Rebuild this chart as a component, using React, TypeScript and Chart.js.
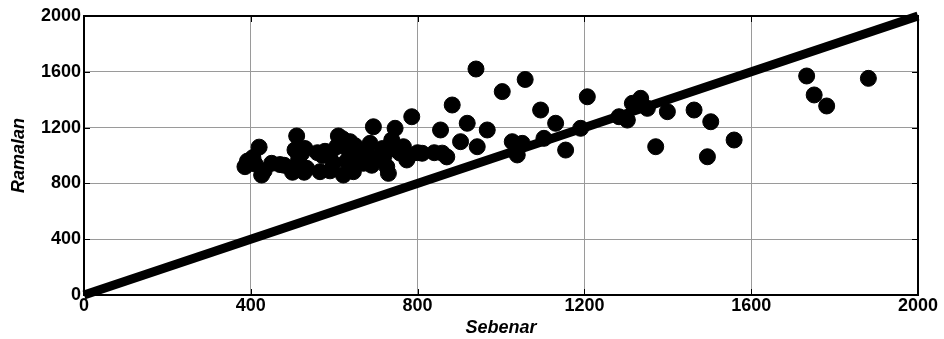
import React, { useEffect, useRef } from "react";
import { Chart, registerables } from "chart.js";

Chart.register(...registerables);

const sebenar: number[] = [
  386, 392, 405, 420, 426, 432, 450, 470, 500, 505, 506, 510, 515, 522, 530, 534, 528, 566, 572, 578,
  590, 598, 606, 610, 620, 622, 630, 634, 638, 646, 654, 660, 670, 676, 686, 694, 700, 710, 716, 726,
  730, 738, 746, 750, 758, 766, 774, 778, 786, 800, 811, 840, 855, 859, 870, 883, 903, 919, 940, 943,
  967, 1003, 1027, 1039, 1051, 1058, 1095, 1103, 1131, 1155, 1191, 1207, 1283, 1303, 1315, 1335, 1351, 1371, 1399, 1463,
  1495, 1503, 1559, 1733, 1751, 1781, 1881, 560, 590, 650, 690, 720, 480, 410,
];
const ramalan: number[] = [
  920, 960, 985, 1060, 860, 890, 944, 935, 880, 920, 1040, 1140, 980, 1016, 1050, 908, 880, 884, 1000, 1030,
  1010, 944, 1063, 1140, 1120, 860, 960, 1040, 1099, 884, 991, 1010, 944, 1040, 1087, 1206, 980, 991, 1050, 920,
  872, 1111, 1195, 1040, 1017, 1063, 968, 991, 1278, 1020, 1016, 1020, 1183, 1017, 990, 1362, 1099, 1231, 1620, 1063,
  1183, 1458, 1099, 1004, 1087, 1545, 1326, 1123, 1231, 1039, 1195, 1421, 1278, 1254, 1374, 1410, 1338, 1063, 1314, 1326,
  991, 1242, 1111, 1570, 1434, 1355, 1553, 1020, 890, 1070, 930, 1000, 930, 940,
];
const idealX: number[] = [0, 2000];
const idealY: number[] = [0, 2000];
const tickValues: number[] = [0, 400, 800, 1200, 1600, 2000];
const xTitle = "Sebenar";
const yTitle = "Ramalan";

const FONT = "'Liberation Sans', Arial, sans-serif";

export default function App() {
  const ref = useRef<HTMLCanvasElement | null>(null);

  useEffect(() => {
    document.body.style.margin = "0";
    const canvas = ref.current;
    if (!canvas) return;

    const boxPlugin = {
      id: "box",
      afterDraw(chart: any) {
        const { ctx, chartArea: a, scales } = chart;
        ctx.save();
        ctx.strokeStyle = "#000";
        ctx.lineWidth = 2;
        ctx.strokeRect(a.left, a.top, a.right - a.left, a.bottom - a.top);
        ctx.lineWidth = 1;
        const xs = scales.x;
        const ys = scales.y;
        tickValues.forEach((v) => {
          const px = Math.round(xs.getPixelForValue(v)) + 0.5;
          ctx.beginPath();
          ctx.moveTo(px, a.bottom);
          ctx.lineTo(px, a.bottom - 6);
          ctx.moveTo(px, a.top);
          ctx.lineTo(px, a.top + 6);
          ctx.stroke();
          const py = Math.round(ys.getPixelForValue(v)) + 0.5;
          ctx.beginPath();
          ctx.moveTo(a.left, py);
          ctx.lineTo(a.left + 6, py);
          ctx.moveTo(a.right, py);
          ctx.lineTo(a.right - 6, py);
          ctx.stroke();
        });
        ctx.restore();
      },
    };

    const tickFont = { family: FONT, size: 18, weight: "bold" as const };

    const chart = new Chart(canvas, {
      type: "scatter",
      data: {
        datasets: [
          {
            type: "line",
            data: idealX.map((x, i) => ({ x, y: idealY[i] })),
            borderColor: "#000",
            borderWidth: 9,
            pointRadius: 0,
            clip: false as any,
            order: 1,
          },
          {
            type: "scatter",
            data: sebenar.map((x, i) => ({ x, y: ramalan[i] })),
            backgroundColor: "#000",
            borderColor: "#000",
            pointRadius: 8,
            pointHoverRadius: 8,
            order: 2,
          },
        ],
      },
      options: {
        responsive: false,
        animation: false,
        events: [],
        layout: { padding: { left: 0, top: 16, right: 26, bottom: 0 } },
        plugins: { legend: { display: false }, tooltip: { enabled: false } },
        scales: {
          x: {
            type: "linear",
            min: 0,
            max: 2000,
            afterBuildTicks: (s: any) => {
              s.ticks = tickValues.map((v) => ({ value: v }));
            },
            afterFit: (s: any) => {
              s.height = 44;
            },
            grid: { color: "#9a9a9a", lineWidth: 1, drawTicks: false },
            border: { display: false },
            ticks: {
              color: "#000",
              padding: 0,
              font: tickFont,
              maxRotation: 0,
              callback: (v: any) => String(v),
            },
            title: {
              display: true,
              text: xTitle,
              color: "#000",
              padding: { top: -5, bottom: 0 },
              font: { family: FONT, size: 18, weight: "bold", style: "italic" },
            },
          },
          y: {
            type: "linear",
            min: 0,
            max: 2000,
            afterBuildTicks: (s: any) => {
              s.ticks = tickValues.map((v) => ({ value: v }));
            },
            afterFit: (s: any) => {
              s.width = 84;
            },
            grid: { color: "#9a9a9a", lineWidth: 1, drawTicks: false },
            border: { display: false },
            ticks: {
              color: "#000",
              padding: 3,
              font: tickFont,
              callback: (v: any) => String(v),
            },
            title: {
              display: true,
              text: yTitle,
              color: "#000",
              padding: { top: 8, bottom: 2 },
              font: { family: FONT, size: 18, weight: "bold", style: "italic" },
            },
          },
        },
      },
      plugins: [boxPlugin],
    } as any);

    return () => chart.destroy();
  }, []);

  return (
    <div style={{ position: "fixed", left: 0, top: 0, width: 944, height: 339, background: "#fff" }}>
      <canvas ref={ref} width={944} height={339} style={{ width: 944, height: 339, display: "block" }} />
    </div>
  );
}
